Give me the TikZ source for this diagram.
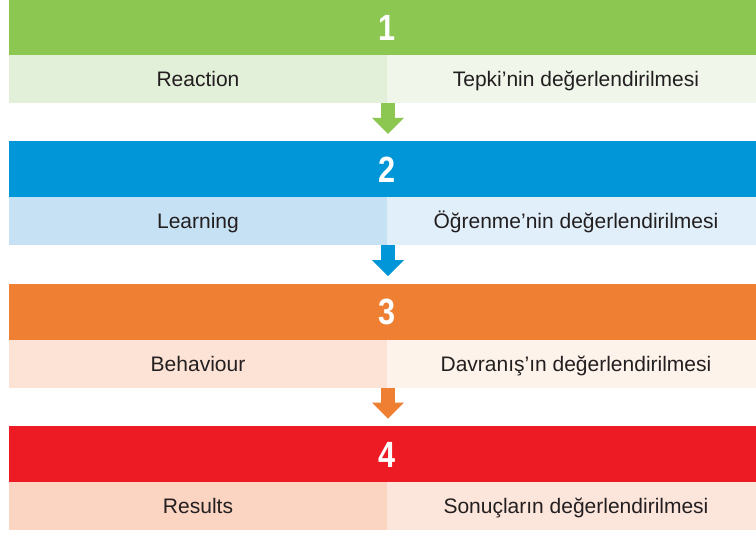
\documentclass[tikz,border=0pt]{standalone}
\usepackage{fontspec}
\setmainfont{Liberation Sans}
\newfontfamily\stagefont[FakeStretch=0.84]{Liberation Sans}
\usetikzlibrary{arrows.meta}

\definecolor{inkgray}{HTML}{231F20}
% stage colours: bar, left cell, right cell
\definecolor{gBar}{HTML}{8BC751}\definecolor{gL}{HTML}{E2EFD9}\definecolor{gR}{HTML}{F0F6EA}
\definecolor{bBar}{HTML}{0096D7}\definecolor{bL}{HTML}{C6E1F4}\definecolor{bR}{HTML}{E1EFFA}
\definecolor{oBar}{HTML}{EE7F33}\definecolor{oL}{HTML}{FCE3D5}\definecolor{oR}{HTML}{FEF3EA}
\definecolor{rBar}{HTML}{ED1C24}\definecolor{rL}{HTML}{FBD4C2}\definecolor{rR}{HTML}{FCE5DB}

\tikzset{
  stagebar/.style={anchor=north west, minimum width=756pt, minimum height=56pt,
    inner sep=0pt, outer sep=0pt, draw=none, fill=#1},
  cell/.style={anchor=north west, minimum width=378pt, minimum height=48pt,
    inner sep=0pt, outer sep=0pt, draw=none, fill=#1, text=inkgray,
    text height=15pt, text depth=0pt,
    font=\fontsize{21}{21}\selectfont},
  stagenum/.style={text=white, inner sep=0pt, text height=26pt, text depth=0pt,
    font=\stagefont\bfseries\fontsize{36.5}{36}\selectfont},
  flow/.style={draw=#1, line width=14pt,
    -{Triangle[width=31pt,length=16pt]}, shorten >=7.6pt}
}

\begin{document}
\begin{tikzpicture}[x=1pt,y=-1pt]
\useasboundingbox[fill=white] (0,0) rectangle (756,536);

% stage 1
\node[stagebar=gBar] (bar1) at (9,-1) {};
\node[stagenum] (n1) at (bar1.center) {1};
\node[cell=gL] (l1) at (bar1.south west) {Reaction};
\node[cell=gR] (r1) at (l1.north east) {Tepki’nin değerlendirilmesi};

% stage 2
\node[stagebar=bBar] (bar2) at (9,141.4) {};
\node[stagenum] (n2) at (bar2.center) {2};
\node[cell=bL] (l2) at (bar2.south west) {Learning};
\node[cell=bR] (r2) at (l2.north east) {Öğrenme’nin değerlendirilmesi};

% stage 3
\node[stagebar=oBar] (bar3) at (9,283.8) {};
\node[stagenum] (n3) at (bar3.center) {3};
\node[cell=oL] (l3) at (bar3.south west) {Behaviour};
\node[cell=oR] (r3) at (l3.north east) {Davranış’ın değerlendirilmesi};

% stage 4
\node[stagebar=rBar] (bar4) at (9,426.2) {};
\node[stagenum] (n4) at (bar4.center) {4};
\node[cell=rL] (l4) at (bar4.south west) {Results};
\node[cell=rR] (r4) at (l4.north east) {Sonuçların değerlendirilmesi};

% arrows between the stages
\draw[flow=gBar] ([xshift=1pt]l1.south east) -- ([xshift=1pt]bar2.north);
\draw[flow=bBar] ([xshift=1pt]l2.south east) -- ([xshift=1pt]bar3.north);
\draw[flow=oBar] ([xshift=1pt]l3.south east) -- ([xshift=1pt]bar4.north);
\end{tikzpicture}
\end{document}
